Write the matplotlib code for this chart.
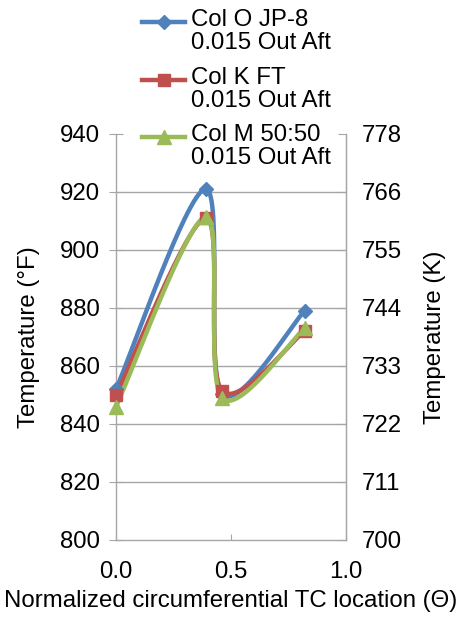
import numpy as np
import matplotlib
matplotlib.use("Agg")
import matplotlib.pyplot as plt
from matplotlib.lines import Line2D

plt.rcParams['font.family'] = ['Liberation Sans', 'DejaVu Sans']

# Data
theta = [0.0, 0.39, 0.46, 0.82]
jp8 = [852, 921, 850.5, 879]
ft = [850, 911, 851.5, 872]
blend = [846, 911.5, 849, 873]

series_labels = ["Col O JP-8\n0.015 Out Aft", "Col K FT\n0.015 Out Aft",
                 "Col M 50:50\n0.015 Out Aft"]
colors = ["#4F81BD", "#C0504D", "#9BBB59"]
markers = ["D", "s", "^"]
msizes = [7.5, 9, 9.5]

yticks_f = [800, 820, 840, 860, 880, 900, 920, 940]
yticks_k = ["700", "711", "722", "733", "744", "755", "766", "778"]
xticks = [0.0, 0.5, 1.0]

FS = 17.3
W, H = 466, 618
fig = plt.figure(figsize=(W / 100, H / 100), dpi=100)
L, R, T, B = 116, 346, 134, 540
ax = fig.add_axes([L / W, 1 - B / H, (R - L) / W, (B - T) / H])
ax.set_xlim(0, 1)
ax.set_ylim(800, 940)

grid_c = "#A6A6A6"
for s in ax.spines.values():
    s.set_color(grid_c)
    s.set_linewidth(1.0)
ax.spines['top'].set_visible(False)
ax.set_yticks(yticks_f)
ax.set_xticks(xticks)
ax.set_xticklabels([f"{v:.1f}" for v in xticks])
ax.tick_params(axis='y', direction='inout', length=10, color=grid_c,
               labelsize=FS, pad=6.5)
ax.tick_params(axis='x', direction='in', length=4, color=grid_c,
               labelsize=FS, pad=15)
for yv in yticks_f[1:-1]:
    ax.axhline(yv, color=grid_c, lw=1.0, zorder=0)

ax2 = ax.twinx()
ax2.set_ylim(800, 940)
ax2.set_yticks(yticks_f)
ax2.set_yticklabels(yticks_k)
ax2.tick_params(axis='y', direction='in', length=6, color=grid_c,
                labelsize=FS, pad=11)
for s in ax2.spines.values():
    s.set_visible(False)
ax2.spines['right'].set_visible(True)
ax2.spines['right'].set_color(grid_c)


def excel_smooth(xs, ys, n=60):
    """Bezier smoothing in display space (Catmull-Rom style control points)."""
    pts = ax.transData.transform(np.column_stack([xs, ys]))
    m = len(pts)
    out = []
    for i in range(m - 1):
        p0 = pts[max(i - 1, 0)]
        p1 = pts[i]
        p2 = pts[i + 1]
        p3 = pts[min(i + 2, m - 1)]
        c1 = p1 + (p2 - p0) / 6.0
        c2 = p2 - (p3 - p1) / 6.0
        t = np.linspace(0, 1, n)[:, None]
        seg = ((1 - t) ** 3) * p1 + 3 * ((1 - t) ** 2) * t * c1 \
            + 3 * (1 - t) * t ** 2 * c2 + t ** 3 * p2
        out.append(seg if i == 0 else seg[1:])
    curve = np.vstack(out)
    return ax.transData.inverted().transform(curve)


for ys, c, mk, ms in zip([jp8, ft, blend], colors, markers, msizes):
    cv = excel_smooth(theta, ys)
    ax.plot(cv[:, 0], cv[:, 1], color=c, lw=3.2, solid_capstyle='round',
            zorder=3, clip_on=False)
    ax.plot(theta, ys, linestyle='none', marker=mk, ms=ms, color=c,
            zorder=4, clip_on=False)

ax.set_ylabel("Temperature (°F)", fontsize=FS, labelpad=14)
ax2.set_ylabel("Temperature (K)", fontsize=FS, labelpad=16)
ax.set_xlabel("Normalized circumferential TC location (Θ)", fontsize=FS,
              labelpad=5)

# Legend, handle aligned with first text line of each entry
entry_y = [22, 80, 137]
for lab, c, mk, ms, y in zip(series_labels, colors, markers, msizes, entry_y):
    fy = 1 - y / H
    fig.add_artist(Line2D([142 / W, 185 / W], [fy, fy], color=c, lw=3.2,
                          transform=fig.transFigure))
    fig.add_artist(Line2D([163.5 / W], [fy], color=c, marker=mk, ms=ms,
                          linestyle='none', transform=fig.transFigure))
    fig.text(191 / W, fy + 13 / H, lab, fontsize=FS, va='top', ha='left',
             linespacing=1.05)

fig.savefig("out.png", dpi=100)
